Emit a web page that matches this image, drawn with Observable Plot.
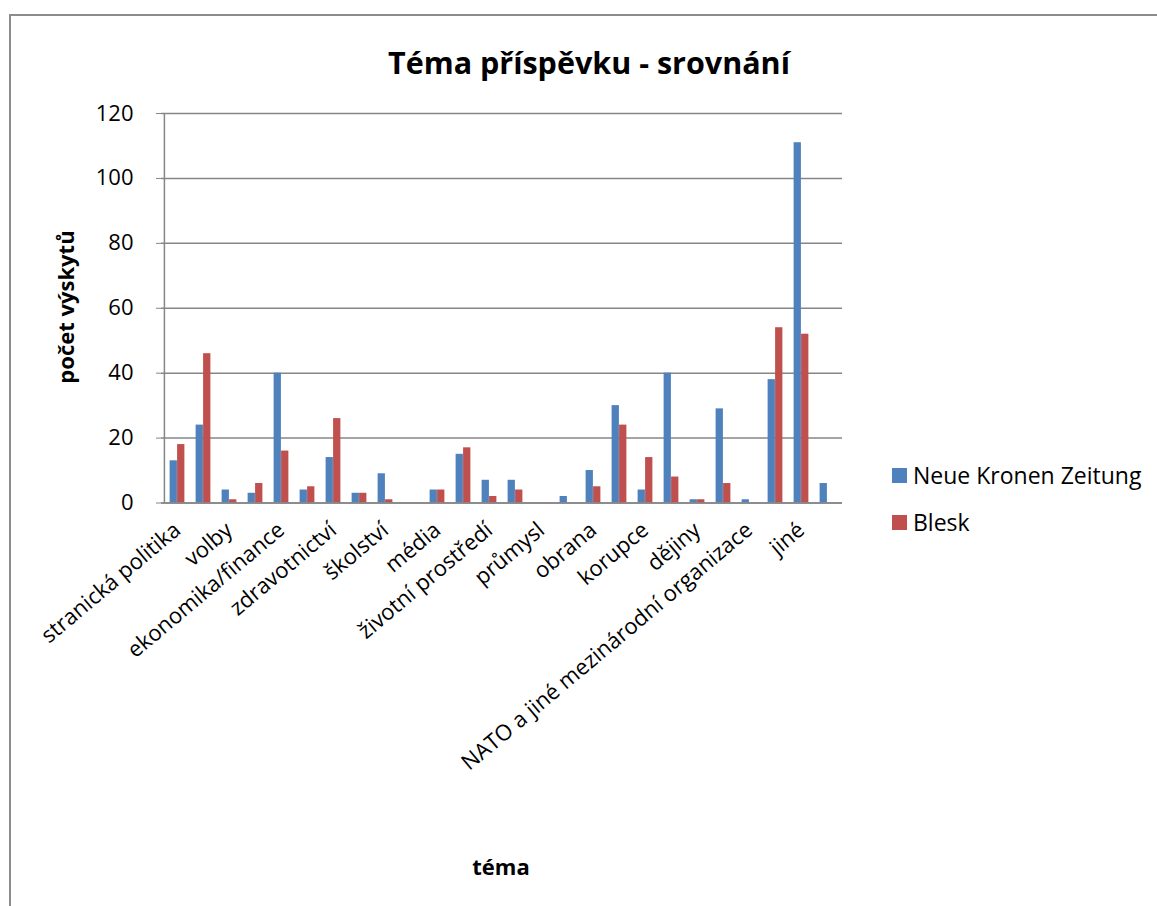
<!DOCTYPE html>
<html>
<head>
<meta charset="utf-8">
<script src="https://cdn.jsdelivr.net/npm/d3@7"></script>
<script src="https://cdn.jsdelivr.net/npm/@observablehq/plot@0.6"></script>
<style>
  html, body { margin: 0; padding: 0; background: #fff; }
  #wrap { position: relative; width: 1157px; height: 906px; overflow: hidden; font-family: "Open Sans", Lato, sans-serif; color: #000; }
  #frame { position: absolute; left: 9px; top: 14px; width: 1200px; height: 1000px; border: 2px solid #8c8c8c; box-sizing: border-box; }
  #chart { position: absolute; left: 0; top: 0; }
  .title { position: absolute; left: 589px; top: 62px; transform: translate(-50%, -50%); font-weight: bold; font-size: 30.5px; white-space: nowrap; }
  .ytitle { position: absolute; left: 65px; top: 307px; transform: translate(-50%, -50%) rotate(-90deg); font-weight: bold; font-size: 22px; white-space: nowrap; }
  .xtitle { position: absolute; left: 501px; top: 866px; transform: translate(-50%, -50%); font-weight: bold; font-size: 22px; }
  .legend { position: absolute; left: 892px; font-size: 23px; display: flex; align-items: center; white-space: nowrap; height: 30px; }
  .legend .sw { width: 15px; height: 15px; margin-right: 6px; }
</style>
</head>
<body>
<div id="wrap">
  <div id="frame"></div>
  <div id="chart"></div>
  <div class="title">Téma příspěvku - srovnání</div>
  <div class="ytitle">počet výskytů</div>
  <div class="xtitle">téma</div>
  <div id="legend"></div>
</div>
<script>
// Category tick labels (only every other category is labelled in the original)
const topics = [
  "stranická politika", "", "volby", "", "ekonomika/finance", "", "zdravotnictví", "",
  "školství", "", "média", "", "životní prostředí", "", "průmysl", "", "obrana", "",
  "korupce", "", "dějiny", "", "NATO a jiné mezinárodní organizace", "", "jiné", ""
];
const seriesNames = ["Neue Kronen Zeitung", "Blesk"];
const seriesColors = ["#4F81BD", "#C0504D"];
const kronenZeitung = [13, 24, 4, 3, 40, 4, 14, 3, 9, 0, 4, 15, 7, 7, 0, 2, 10, 30, 4, 40, 1, 29, 1, 38, 111, 6];
const blesk =         [18, 46, 1, 6, 16, 5, 26, 3, 1, 0, 4, 17, 2, 4, 0, 0, 5, 24, 14, 8, 1, 6, 0, 54, 52, 0];
const yTicks = [0, 20, 40, 60, 80, 100, 120];

const idx = d3.range(topics.length);
const rowsA = idx.map(i => ({i, v: kronenZeitung[i]}));
const rowsB = idx.map(i => ({i, v: blesk[i]}));

const W = 1157, H = 906;
const mL = 161, mR = W - 842, mT = 113, mB = H - 502.5;
const step = (W - mL - mR) / topics.length;
const barW = step / 3.5;
const half = step / 2;

const plot = Plot.plot({
  width: W,
  height: H,
  marginLeft: mL,
  marginRight: mR,
  marginTop: mT,
  marginBottom: mB,
  style: { fontFamily: "'Open Sans', Lato, sans-serif", fontSize: "21px", color: "#000", background: "transparent" },
  x: { type: "band", domain: idx, padding: 0 },
  y: { domain: [0, 120] },
  marks: [
    Plot.ruleY(yTicks, { stroke: "#868686", strokeWidth: 1.5 }),
    Plot.barY(rowsA, { x: "i", y: "v", fill: seriesColors[0], insetLeft: half - barW, insetRight: half }),
    Plot.barY(rowsB, { x: "i", y: "v", fill: seriesColors[1], insetLeft: half, insetRight: half - barW }),
    Plot.axisY(yTicks, { label: null, tickSize: 5, tickPadding: 23, stroke: "#868686", fontSize: 22 }),
    Plot.ruleX([0], { x: () => 0, dx: -half, stroke: "#868686", strokeWidth: 1.5 }),
    Plot.axisX({ label: null, tickSize: 0, tickRotate: -40, tickPadding: 24, tickFormat: i => topics[i], fontSize: 22 }),
    Plot.ruleY([0], { stroke: "#868686", strokeWidth: 1.5 })
  ]
});
document.getElementById("chart").appendChild(plot);

// legend
const leg = document.getElementById("legend");
const legTops = [460, 507];
seriesNames.forEach((n, k) => {
  const d = document.createElement("div");
  d.className = "legend";
  d.style.top = legTops[k] + "px";
  d.innerHTML = `<span class="sw" style="background:${seriesColors[k]}"></span><span>${n}</span>`;
  leg.appendChild(d);
});
</script>
</body>
</html>
